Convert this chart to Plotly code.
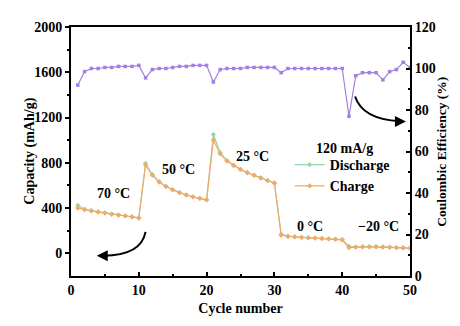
import plotly.graph_objects as go

cycles = list(range(1, 51))
charge = [400, 385, 375, 365, 355, 345, 338, 330, 322, 312,
          780, 690, 630, 590, 560, 535, 515, 498, 485, 472,
          1000, 880, 815, 775, 740, 712, 690, 665, 642, 620,
          160, 150, 145, 140, 137, 134, 130, 127, 124, 120,
          50, 55, 57, 58, 57, 55, 53, 50, 48, 45]
discharge = [425, 390, 378, 368, 358, 348, 340, 332, 324, 314,
             795, 695, 633, 593, 563, 538, 518, 500, 487, 474,
             1050, 890, 820, 778, 743, 715, 692, 667, 644, 622,
             168, 152, 147, 142, 139, 136, 132, 129, 126, 122,
             62, 57, 59, 60, 59, 57, 55, 52, 50, 47]
ce = [92, 98.5, 100, 100, 100.5, 100.5, 101, 101, 101, 101.5,
      95.5, 99.5, 100, 100, 100.5, 101, 101, 101.5, 101.5, 101.5,
      93.5, 99.5, 100, 100, 100, 100.5, 100.5, 100.5, 100.5, 100.5,
      98, 100, 100, 100, 100, 100, 100, 100, 100, 100,
      77, 96.5, 98, 98, 98, 94.5, 98.5, 99.5, 103, 100.5]

x_ticks = [0, 10, 20, 30, 40, 50]
y_ticks = [0, 400, 800, 1200, 1600, 2000]
y2_ticks = [0, 20, 40, 60, 80, 100, 120]

temp_labels = ["70 °C", "50 °C", "25 °C", "0 °C", "−20 °C"]
temp_x = [6.2, 15.8, 26.8, 35.2, 45.3]
temp_y = [530, 740, 860, 240, 240]

FONT = "Liberation Serif"
purple = "#a47ee0"
orange = "#f5a865"
green = "#8fd9a8"


def b(v):
    return "<b>%s</b>" % v


fig = go.Figure()
fig.add_trace(go.Scatter(x=cycles, y=discharge, mode="lines+markers", name=b("Discharge"),
                         line=dict(color=green, width=1.2), marker=dict(symbol="diamond", size=4, color=green)))
fig.add_trace(go.Scatter(x=cycles, y=charge, mode="lines+markers", name=b("Charge"),
                         line=dict(color=orange, width=1.2), marker=dict(symbol="diamond", size=4, color=orange)))
fig.add_trace(go.Scatter(x=cycles, y=ce, mode="lines+markers", name="CE", yaxis="y2", showlegend=False,
                         line=dict(color=purple, width=1.2), marker=dict(symbol="square", size=3.5, color=purple)))

font14 = dict(family=FONT, size=14, color="black", weight="bold")

for t, x, y in zip(temp_labels, temp_x, temp_y):
    fig.add_annotation(x=x, y=y, text=b(t), showarrow=False, font=font14)

fig.add_annotation(x=40.3, y=930, text=b("120 mA/g"), showarrow=False, font=font14)

# axis titles
fig.add_annotation(x=-0.153, y=0.5, xref="paper", yref="paper", text=b("Capacity (mAh/g)"),
                   textangle=-90, showarrow=False, font=font14)
fig.add_annotation(x=1.12, y=0.5, xref="paper", yref="paper", text=b("Coulombic Efficiency (%)"),
                   textangle=-90, showarrow=False, font=dict(family=FONT, size=13.5, color="black"))

# curved arrows
fig.add_shape(type="path", path="M 11.0 190 Q 10.3 -20 4.8 -20", xref="x", yref="y",
              line=dict(color="black", width=2))
fig.add_annotation(x=3.8, y=-20, ax=12, ay=0, text="", showarrow=True,
                   arrowhead=2, arrowsize=1.1, arrowwidth=2, arrowcolor="black", xref="x", yref="y")
fig.add_shape(type="path", path="M 41.9 86.5 Q 43.0 75.5 48.5 74.6", xref="x", yref="y2",
              line=dict(color="black", width=2))
fig.add_annotation(x=49.4, y=74.5, ax=-12, ay=0, text="", showarrow=True,
                   arrowhead=2, arrowsize=1.1, arrowwidth=2, arrowcolor="black", xref="x", yref="y2")

axis_common = dict(showline=True, linecolor="black", linewidth=2, showgrid=False, zeroline=False,
                   ticklen=4, tickwidth=1.5, tickcolor="black", tickfont=font14, tickmode="array")

fig.update_layout(
    width=452, height=318,
    margin=dict(l=63, r=50, t=13, b=50),
    paper_bgcolor="white", plot_bgcolor="white",
    font=dict(family=FONT, color="black"),
    xaxis=dict(range=[0, 50], tickvals=x_ticks, ticktext=[b(v) for v in x_ticks], ticks="inside", mirror=True,
               minor=dict(tickvals=[5, 15, 25, 35, 45], ticks="inside", ticklen=2, tickcolor="black"),
               title=dict(text=b("Cycle number"), font=font14, standoff=6),
               **axis_common),
    yaxis=dict(range=[-200, 2000], tickvals=y_ticks, ticktext=[b(v) for v in y_ticks], ticks="outside",
               minor=dict(tickvals=[200, 600, 1000, 1400, 1800], ticks="outside", ticklen=2, tickcolor="black"),
               **axis_common),
    yaxis2=dict(range=[0, 120], tickvals=y2_ticks, ticktext=[b(v) for v in y2_ticks], ticks="inside",
                overlaying="y", side="right", anchor="x",
                minor=dict(tickvals=[10, 30, 50, 70, 90, 110], ticks="inside", ticklen=2, tickcolor="black"),
                **axis_common),
    legend=dict(x=0.645, y=0.51, xanchor="left", yanchor="top", bgcolor="rgba(0,0,0,0)",
                font=font14, tracegroupgap=0, itemwidth=30),
    showlegend=True,
)

fig.write_html("out.html")
